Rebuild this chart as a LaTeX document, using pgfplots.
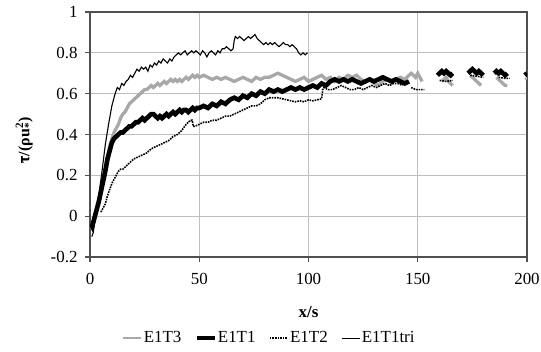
\documentclass[border=0pt]{standalone}
\usepackage{fontspec}
\setmainfont{Liberation Serif}
\usepackage{pgfplots}
\pgfplotsset{compat=1.18}
\definecolor{gridgray}{RGB}{190,190,190}
\definecolor{sergray}{RGB}{168,168,168}
\definecolor{axgray}{RGB}{80,80,80}
\begin{document}
\begin{tikzpicture}
\begin{axis}[
  scale only axis, width=437bp, height=245bp,
  xmin=0, xmax=200, ymin=-0.2, ymax=1,
  xtick={0,50,...,200}, ytick={-0.2,0,0.2,0.4,0.6,0.8,1},
  grid=major, major grid style={gridgray, line width=0.9bp},
  axis line style={axgray, line width=1.4bp},
  tick align=outside, major tick length=5bp, tick style={axgray, line width=1.1bp},
  xtick pos=bottom, ytick pos=left,
  /pgf/number format/assume math mode=true,
  /pgf/number format/fixed,
  tick label style={font=\fontsize{17}{19}\selectfont},
  yticklabel style={xshift=-4bp},
  xticklabel style={yshift=-8bp},
  xlabel={\textbf{x/s}}, xlabel style={font=\fontsize{17}{19}\selectfont, yshift=-15bp},
  ylabel={\textbf{$\overline{\hbox{\bfseries τ}}$/(ρu\rlap{\textsubscript{*}}\textsuperscript{2})}},
  ylabel style={font=\fontsize{16}{19}\selectfont, yshift=11bp, xshift=-6bp},
  unbounded coords=jump,
  legend columns=-1,
  legend style={draw=none, fill=none, at={(0.41,-0.331)}, anchor=center,
    font=\fontsize{17}{19}\selectfont,
    /tikz/every even column/.append style={column sep=12bp},
    nodes={inner xsep=1.5bp}},
  legend image code/.code={\draw[#1] (0bp,0bp) -- (18bp,0bp);},
]
\coordinate (O) at (rel axis cs:0,0);
% E1T3
\addplot[sergray, line width=3.3bp, legend image post style={line width=2bp}] table {
x y
0 -0.06
1 -0.05
2 -0.02
3 0.03
4 0.08
5 0.13
6 0.18
7 0.24
8 0.29
9 0.34
10 0.38
11 0.41
12 0.43
13 0.45
14 0.48
15 0.50
16 0.51
17 0.53
18 0.55
19 0.56
20 0.57
21 0.58
22 0.59
23 0.60
24 0.61
25 0.62
26 0.62
27 0.63
28 0.64
29 0.63
30 0.64
31 0.65
32 0.64
33 0.65
34 0.66
35 0.65
36 0.66
37 0.67
38 0.66
39 0.67
40 0.66
41 0.67
42 0.66
43 0.67
44 0.68
45 0.67
46 0.68
47 0.69
48 0.68
49 0.69
50 0.68
52 0.69
54 0.68
56 0.67
58 0.68
60 0.67
62 0.68
64 0.67
66 0.66
68 0.67
70 0.68
72 0.67
74 0.66
76 0.68
78 0.67
80 0.68
82 0.68
84 0.69
86 0.70
88 0.69
90 0.68
92 0.67
94 0.66
96 0.67
98 0.68
100 0.66
102 0.67
104 0.68
106 0.69
108 0.67
110 0.68
112 0.66
114 0.68
116 0.67
118 0.69
120 0.68
122 0.69
124 0.67
126 0.66
128 0.67
130 0.65
132 0.64
134 0.66
136 0.67
138 0.66
140 0.67
142 0.68
144 0.67
146 0.69
147 0.70
148 0.69
149 0.68
150 0.70
151 0.68
152 0.66
153 nan
161 0.66
162 0.67
163 0.68
164 0.66
165 0.65
166 0.64
167 nan
174 0.69
175 0.68
176 0.67
177 0.66
178 0.65
179 0.64
180 nan
186 0.68
187 0.67
188 0.66
189 0.65
190 0.64
191 0.64
192 nan
199.5 0.68
200 0.67
};
\addlegendentry{E1T3}
% E1T1
\addplot[black, line width=4.6bp, legend image post style={line width=3.5bp}] table {
x y
0.5 -0.04
1 -0.05
1.5 -0.03
2 -0.01
3 0.03
4 0.07
5 0.12
6 0.17
7 0.22
8 0.28
9 0.32
10 0.36
11 0.38
12 0.39
13 0.40
14 0.41
15 0.41
16 0.42
17 0.43
18 0.44
19 0.44
20 0.45
21 0.46
22 0.46
23 0.47
24 0.48
25 0.47
26 0.48
27 0.49
28 0.50
29 0.50
30 0.49
31 0.48
32 0.49
33 0.48
34 0.49
35 0.50
36 0.49
37 0.50
38 0.51
39 0.50
40 0.51
41 0.52
42 0.51
43 0.52
44 0.52
45 0.51
46 0.52
47 0.53
48 0.52
49 0.53
50 0.53
52 0.54
54 0.53
56 0.55
58 0.54
60 0.56
62 0.55
64 0.57
66 0.58
68 0.57
70 0.59
72 0.58
74 0.60
76 0.59
78 0.61
80 0.60
82 0.62
84 0.61
86 0.62
88 0.61
90 0.62
92 0.63
94 0.62
96 0.63
98 0.62
100 0.63
102 0.64
104 0.63
106 0.65
108 0.64
110 0.66
112 0.67
114 0.66
116 0.67
118 0.66
120 0.67
122 0.66
124 0.65
126 0.66
128 0.67
130 0.66
132 0.67
134 0.68
136 0.67
138 0.66
140 0.67
142 0.66
144 0.65
146 0.66
147 nan
159 0.69
160 0.70
161 0.71
162 0.70
163 0.71
164 0.70
165 0.69
166 0.70
167 nan
173 0.70
174 0.71
175 0.72
176 0.71
177 0.70
178 0.71
179 0.70
180 0.69
181 nan
185 0.70
186 0.71
187 0.70
188 0.71
189 0.70
190 0.69
191 0.70
192 nan
199 0.69
200 0.70
};
\addlegendentry{E1T1}
% E1T2
\addplot[black, line width=1.6bp, densely dotted] table {
x y
5 0.02
6 0.04
7 0.06
8 0.10
9 0.13
10 0.16
11 0.18
12 0.20
13 0.22
14 0.23
15 0.23
16 0.24
17 0.25
18 0.26
19 0.27
20 0.28
22 0.29
24 0.30
26 0.31
28 0.33
30 0.34
32 0.35
34 0.36
36 0.37
38 0.39
40 0.40
42 0.42
44 0.45
45 0.46
46 0.47
46.8 0.47
47.2 0.44
48 0.44
50 0.45
52 0.46
54 0.46
56 0.47
58 0.47
60 0.48
62 0.49
64 0.49
66 0.50
68 0.51
70 0.52
72 0.53
74 0.54
76 0.54
78 0.55
80 0.57
82 0.58
84 0.58
86 0.58
88 0.575
90 0.57
92 0.565
94 0.56
96 0.565
98 0.56
100 0.57
102 0.565
104 0.57
106 0.575
106.5 0.62
107 0.63
109 0.62
111 0.62
113 0.63
115 0.64
117 0.63
119 0.62
121 0.62
123 0.63
125 0.62
127 0.63
129 0.64
131 0.63
133 0.64
135 0.65
137 0.64
139 0.65
141 0.65
143 0.64
145 nan
147 0.63
149 0.62
151 0.62
153 0.62
155 nan
160 0.665
163 0.66
166 0.665
168 nan
174 0.69
177 0.685
180 0.68
182 nan
187 0.68
190 0.675
192 0.675
};
\addlegendentry{E1T2}
% E1T1tri
\addplot[black, line width=1.1bp] table {
x y
0.8 -0.10
1.5 -0.08
2.5 0.00
4 0.10
5.5 0.22
7 0.35
8.5 0.45
10 0.54
11.5 0.60
12.5 0.63
13.5 0.62
14.5 0.65
15.5 0.64
16.5 0.66
17.5 0.67
18.5 0.69
19.5 0.68
20.5 0.70
21.5 0.72
22.5 0.71
23.5 0.73
24.5 0.72
25.5 0.73
26.5 0.71
27.5 0.74
28.5 0.73
29.5 0.75
30.5 0.74
31.5 0.76
32.5 0.75
33.5 0.77
34.5 0.76
35.5 0.75
36.5 0.77
37.5 0.76
38.5 0.78
39.5 0.79
40.5 0.80
41.5 0.79
42.5 0.80
43.5 0.81
44.5 0.79
45.5 0.80
46.5 0.81
47.5 0.80
48.5 0.81
49.5 0.80
50.5 0.79
51.5 0.81
52.5 0.80
53.5 0.78
54.5 0.80
55.5 0.81
56.5 0.80
57.5 0.79
58.5 0.81
59.5 0.80
60.5 0.82
61.5 0.82
62.5 0.83
63.5 0.82
64.5 0.81
65.5 0.82
66.0 0.86
66.5 0.88
67.5 0.87
68.5 0.88
69.5 0.87
70.5 0.86
71.5 0.87
72.5 0.88
73.5 0.87
74.5 0.88
75.5 0.89
76.5 0.87
77.5 0.86
78.5 0.85
79.5 0.84
80.5 0.85
81.5 0.84
82.5 0.85
83.5 0.84
84.5 0.85
85.5 0.84
86.5 0.83
87.5 0.84
88.5 0.85
89.5 0.84
90.5 0.84
91.5 0.83
92.5 0.84
93.5 0.83
94.5 0.82
95.5 0.80
96.5 0.79
97.5 0.80
98.5 0.79
99.5 0.80
};
\addlegendentry{E1T1tri}
\end{axis}
\pgfresetboundingbox
\path (O) ++(-90bp,-95bp) rectangle ++(541bp,352bp);
\end{tikzpicture}
\end{document}
